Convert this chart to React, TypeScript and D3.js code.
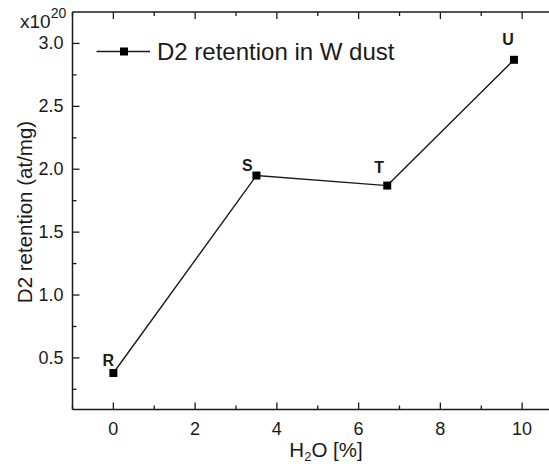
import React from 'react';
import * as d3 from 'd3';

// H2O content (%) and D2 retention (x1e20 at/mg)
const samples = ['R', 'S', 'T', 'U'];
const h2o = [0, 3.5, 6.7, 9.8];
const retention = [0.38, 1.95, 1.87, 2.87];
// label nudges relative to each point (px)
const labelDx = [-5, -9, -8, -6];
const labelDy = [-7, -5, -13, -15];

const xTicks = [0, 2, 4, 6, 8, 10];
const xMinor = [-1, 1, 3, 5, 7, 9, 11];
const yTicks = [0.5, 1.0, 1.5, 2.0, 2.5, 3.0];
const yMinor = [0.25, 0.75, 1.25, 1.75, 2.25, 2.75];

const W = 549;
const H = 464;
const font = '"Liberation Sans", Arial, sans-serif';

export default function App() {
  const left = 72.5, top = 12, bottom = 409.5;
  const x = d3.scaleLinear().domain([-1, 11]).range([left, 563]);
  const y = d3.scaleLinear().domain([0.09, 3.25]).range([bottom, top]);

  const pts = h2o.map((v, i) => ({ x: v, y: retention[i], name: samples[i] }));
  const line = d3
    .line<{ x: number; y: number }>()
    .x(d => x(d.x))
    .y(d => y(d.y));

  const ink = '#1a1a1a';

  return (
    <svg
      width={W}
      height={H}
      style={{ position: 'absolute', left: 0, top: 0, background: '#fff' }}
      fontFamily={font}
    >
      {/* frame */}
      <line x1={left} x2={W} y1={top} y2={top} stroke={ink} strokeWidth={1.5} />
      <line x1={left} x2={W} y1={bottom} y2={bottom} stroke={ink} strokeWidth={1.5} />
      <line x1={left} x2={left} y1={top} y2={bottom} stroke={ink} strokeWidth={1.5} />

      {/* x ticks, bottom and top, pointing inward */}
      {xTicks.map(t => (
        <g key={'xt' + t}>
          <line x1={x(t)} x2={x(t)} y1={bottom} y2={bottom - 7} stroke={ink} strokeWidth={1.3} />
          <line x1={x(t)} x2={x(t)} y1={top} y2={top + 7} stroke={ink} strokeWidth={1.3} />
          <text x={x(t)} y={435} textAnchor="middle" fontSize={18} fill={ink}>
            {t}
          </text>
        </g>
      ))}
      {xMinor.map(t => (
        <g key={'xm' + t}>
          <line x1={x(t)} x2={x(t)} y1={bottom} y2={bottom - 4} stroke={ink} strokeWidth={1.3} />
          <line x1={x(t)} x2={x(t)} y1={top} y2={top + 4} stroke={ink} strokeWidth={1.3} />
        </g>
      ))}

      {/* y ticks */}
      {yTicks.map(t => (
        <g key={'yt' + t}>
          <line x1={left} x2={left + 7} y1={y(t)} y2={y(t)} stroke={ink} strokeWidth={1.3} />
          <text
            x={63.5}
            y={y(t)}
            textAnchor="end"
            dominantBaseline="central"
            fontSize={18}
            fill={ink}
          >
            {d3.format('.1f')(t)}
          </text>
        </g>
      ))}
      {yMinor.map(t => (
        <line key={'ym' + t} x1={left} x2={left + 4} y1={y(t)} y2={y(t)} stroke={ink} strokeWidth={1.3} />
      ))}

      {/* exponent */}
      <text x={20} y={28} fontSize={19} fill={ink}>
        x10
        <tspan fontSize={14} dy={-10}>20</tspan>
      </text>

      {/* axis titles */}
      <text x={326} y={457} textAnchor="middle" fontSize={20.5} fill={ink}>
        H
        <tspan fontSize={13} dy={4}>2</tspan>
        <tspan dy={-4}>O [%]</tspan>
      </text>
      <text
        transform={`translate(32, ${212}) rotate(-90)`}
        textAnchor="middle"
        fontSize={20.5}
        fill={ink}
      >
        D2 retention (at/mg)
      </text>

      {/* series */}
      <path d={line(pts) || ''} fill="none" stroke={ink} strokeWidth={1.4} />
      {pts.map((p, i) => (
        <g key={p.name}>
          <rect x={x(p.x) - 4} y={y(p.y) - 4} width={8} height={8} fill="#000" />
          <text
            x={x(p.x) + labelDx[i]}
            y={y(p.y) + labelDy[i]}
            textAnchor="middle"
            fontSize={16}
            fontWeight="bold"
            fill={ink}
          >
            {p.name}
          </text>
        </g>
      ))}

      {/* legend */}
      <line x1={96.5} x2={150} y1={51.5} y2={51.5} stroke={ink} strokeWidth={1.4} />
      <rect x={120} y={47.5} width={8} height={8} fill="#000" />
      <text x={157} y={60} fontSize={24} fill={ink}>
        D2 retention in W dust
      </text>
    </svg>
  );
}
